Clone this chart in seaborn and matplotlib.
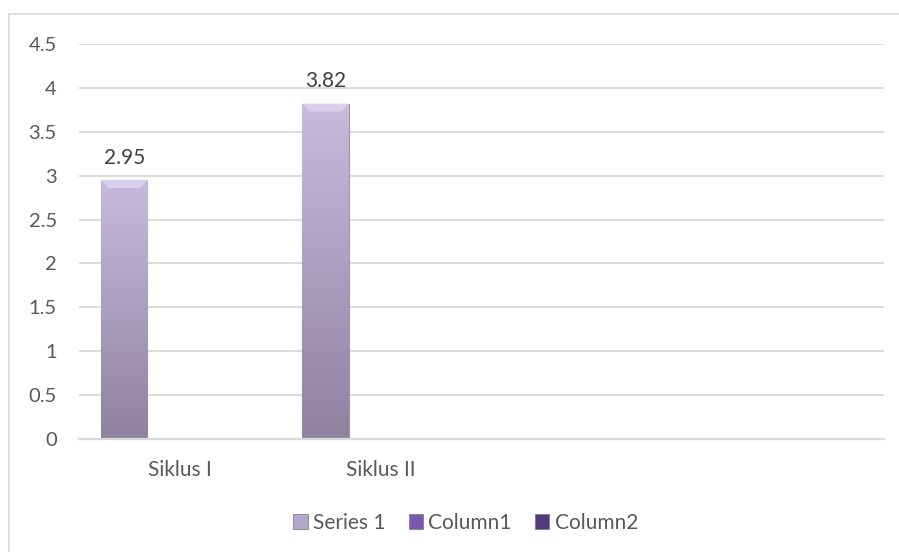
import numpy as np
import pandas as pd
import matplotlib
matplotlib.use("Agg")
import matplotlib.pyplot as plt
import matplotlib.patches as mpatches
import seaborn as sns

# ---- data ----
categories = ["Siklus I", "Siklus II", " ", "  "]
series_names = ["Series 1", "Column1", "Column2"]
series1 = [2.95, 3.82, np.nan, np.nan]
column1 = [np.nan, np.nan, np.nan, np.nan]
column2 = [np.nan, np.nan, np.nan, np.nan]
yticks = [0, 0.5, 1, 1.5, 2, 2.5, 3, 3.5, 4, 4.5]

colors = ["#b3a7cb", "#7b58b0", "#553a7c"]

rows = []
for name, vals in zip(series_names, [series1, column1, column2]):
    for c, v in zip(categories, vals):
        rows.append({"cat": c, "series": name, "value": v})
df = pd.DataFrame(rows)

sns.set_theme(style="white")
plt.rcParams["font.family"] = ["Lato", "DejaVu Sans"]

fig = plt.figure(figsize=(8.99, 5.52), dpi=100)
W, H = 899, 552
ax = fig.add_axes([79 / W, 1 - 439 / H, (884 - 79) / W, (439 - 44) / H])

sns.barplot(data=df, x="cat", y="value", hue="series", order=categories,
            hue_order=series_names, palette=colors, width=0.825, gap=0.167,
            ax=ax, legend=False, errorbar=None, saturation=1)

ax.set_ylim(0, 4.5)
ax.set_xlim(-0.5, len(categories) - 0.5)
ax.set_yticks(yticks)
ax.set_yticklabels([f"{t:g}" for t in yticks], color="#595959", fontsize=14.5)
ax.set_xticks(range(len(categories)))
ax.set_xticklabels(categories, color="#595959", fontsize=15)
ax.tick_params(axis="y", length=0, pad=16)
ax.tick_params(axis="x", length=0, pad=15)
ax.set_xlabel("")
ax.set_ylabel("")
ax.yaxis.grid(True, color="#d9d9d9", lw=1.3)
ax.set_axisbelow(True)
for s in ["top", "right", "left"]:
    ax.spines[s].set_visible(False)
ax.spines["bottom"].set_color("#d9d9d9")
ax.spines["bottom"].set_linewidth(1.6)

# gradient fill on bars
grad = np.linspace(0, 1, 256).reshape(-1, 1)
top_c = np.array(matplotlib.colors.to_rgb("#c6bbdd"))
bot_c = np.array(matplotlib.colors.to_rgb("#8f829f"))
img = top_c[None, None, :] * (1 - grad[:, :, None]) + bot_c[None, None, :] * grad[:, :, None]
for p in ax.patches:
    h = p.get_height()
    if not np.isfinite(h) or h <= 0:
        continue
    x0, w = p.get_x(), p.get_width()
    p.set_edgecolor("#9e92b2")
    p.set_linewidth(0.8)
    im = ax.imshow(img, extent=[x0, x0 + w, 0, h], aspect="auto", origin="upper", zorder=p.get_zorder() + 0.1)
    im.set_clip_path(p)
    # bevel top highlight
    bev = 0.09
    poly = mpatches.Polygon([[x0, h], [x0 + w, h], [x0 + w * 0.85, h - bev], [x0 + w * 0.15, h - bev]],
                            closed=True, facecolor="#d8d0ea", edgecolor="none", zorder=p.get_zorder() + 0.2)
    ax.add_patch(poly)
    ax.annotate(f"{h:.2f}", (x0 + w / 2, h), xytext=(0, 9), textcoords="offset points",
                ha="center", va="bottom", fontsize=15, color="#404040")

# legend
handles = [mpatches.Patch(facecolor=c, edgecolor="#7a6c8e", lw=0.5) for c in colors]
fig.legend(handles, series_names, loc="center", bbox_to_anchor=(0.518, 1 - 523 / H),
           ncol=3, frameon=False, fontsize=15, handlelength=0.7, handleheight=0.7,
           handletextpad=0.25, columnspacing=1.1, labelcolor="#595959")

# chart border
border = mpatches.Rectangle((9 / W, -0.1), 1.2, 1 - 14 / H + 0.1, transform=fig.transFigure,
                            fill=False, edgecolor="#d9d9d9", lw=1.2)
fig.patches.append(border)

fig.savefig("out.png", dpi=100, facecolor="white")
